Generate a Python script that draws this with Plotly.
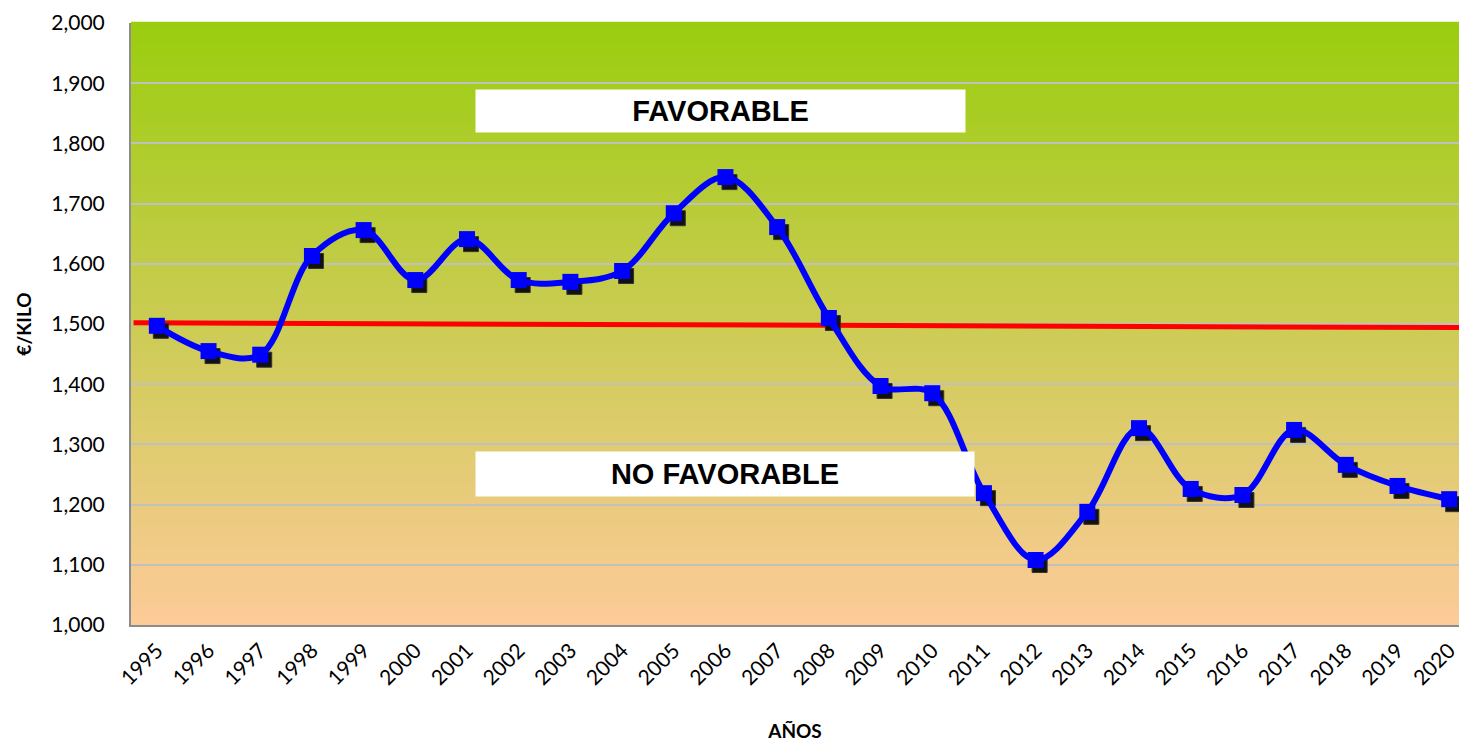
import plotly.graph_objects as go

years = list(range(1995, 2021))
prices = [1.497, 1.455, 1.449, 1.613, 1.656, 1.573, 1.641, 1.573, 1.570, 1.588,
          1.684, 1.744, 1.661, 1.510, 1.397, 1.385, 1.219, 1.108, 1.188, 1.327,
          1.226, 1.216, 1.324, 1.266, 1.231, 1.209]
ref_years = [1994.55, 2020.2]
ref_values = [1.502, 1.494]
y_ticks = [1.0, 1.1, 1.2, 1.3, 1.4, 1.5, 1.6, 1.7, 1.8, 1.9, 2.0]
label_top = "FAVORABLE"
label_bottom = "NO FAVORABLE"

W, H = 1459, 743
# plot area in screen pixels: x 131..1459, y 23..625
ML, MR, MT = 131, 0, 23
MB = H - 625
PW, PH = W - ML - MR, H - MT - MB
x_range = [1994.5, 2020.19]
y_range = [1.0, 2.0]
px_x = (x_range[1] - x_range[0]) / PW
px_y = (y_range[1] - y_range[0]) / PH

fig = go.Figure()

# gradient background
top_c = (154, 205, 14)
bot_c = (253, 203, 153)
n = 120
for i in range(n):
    t = (i + 0.5) / n
    c = tuple(int(round(bot_c[k] + (top_c[k] - bot_c[k]) * t)) for k in range(3))
    fig.add_shape(type="rect", xref="paper", yref="paper",
                  x0=0, x1=1, y0=i / n, y1=(i + 1) / n + 0.002,
                  fillcolor="rgb(%d,%d,%d)" % c, line_width=0, layer="below")

# reference line
fig.add_trace(go.Scatter(x=ref_years, y=ref_values, mode="lines",
                         line=dict(color="#ff0000", width=5),
                         hoverinfo="skip", showlegend=False))

# marker shadows
fig.add_trace(go.Scatter(x=[v + 4 * px_x for v in years],
                         y=[v - 5 * px_y for v in prices],
                         mode="markers",
                         marker=dict(symbol="square", size=15, color="#111111",
                                     line=dict(color="#333333", width=1)),
                         hoverinfo="skip", showlegend=False))

# main series
fig.add_trace(go.Scatter(x=years, y=prices, mode="lines+markers",
                         line=dict(color="#0000ff", width=6, shape="spline", smoothing=1.0),
                         marker=dict(symbol="square", size=16, color="#0000ff"),
                         showlegend=False))

def px2paper_x(sx):
    return (sx - ML) / PW

def px2paper_y(sy):
    return 1 - (sy - MT) / PH

box_font = dict(family="Liberation Sans, Arial", size=29, color="black")
fig.add_annotation(xref="paper", yref="paper",
                   x=px2paper_x(720), y=px2paper_y(111),
                   text="<b>%s</b>" % label_top, showarrow=False,
                   bgcolor="white", width=487, height=40, font=box_font,
                   xanchor="center", yanchor="middle")
fig.add_annotation(xref="paper", yref="paper",
                   x=px2paper_x(725), y=px2paper_y(474),
                   text="<b>%s</b>" % label_bottom, showarrow=False,
                   bgcolor="white", width=496, height=42, font=box_font,
                   xanchor="center", yanchor="middle")

tick_font = dict(family="Lato, Open Sans, sans-serif", size=21, color="black")
title_font = dict(family="Lato, sans-serif", size=19, color="black")
fig.update_layout(
    width=W, height=H,
    margin=dict(l=ML, r=MR, t=MT, b=MB, pad=0),
    paper_bgcolor="white", plot_bgcolor="rgba(0,0,0,0)",
    separators=",.",
    xaxis=dict(range=x_range, tickvals=years, ticktext=[str(y) for y in years],
               tickangle=-45, tickfont=tick_font, showgrid=False, zeroline=False,
               showline=True, linecolor="#8c8c8c", linewidth=2, ticks="",
               ticklabeloverflow="allow", ticklabelstandoff=3,
               title=dict(text="<b>AÑOS</b>", font=title_font, standoff=36)),
    yaxis=dict(range=y_range, tickvals=y_ticks, tickformat=".3f", tickfont=tick_font,
               showgrid=True, gridcolor="#c0c0c0", gridwidth=2, zeroline=False,
               showline=True, linecolor="#8c8c8c", linewidth=2, ticks="",
               ticklabelstandoff=20,
               title=dict(text="<b>€/KILO</b>", font=title_font, standoff=15)),
)

fig.write_html("out.html", config={"displayModeBar": False},
               post_script="document.body.style.margin='0';document.body.style.overflow='hidden';")
